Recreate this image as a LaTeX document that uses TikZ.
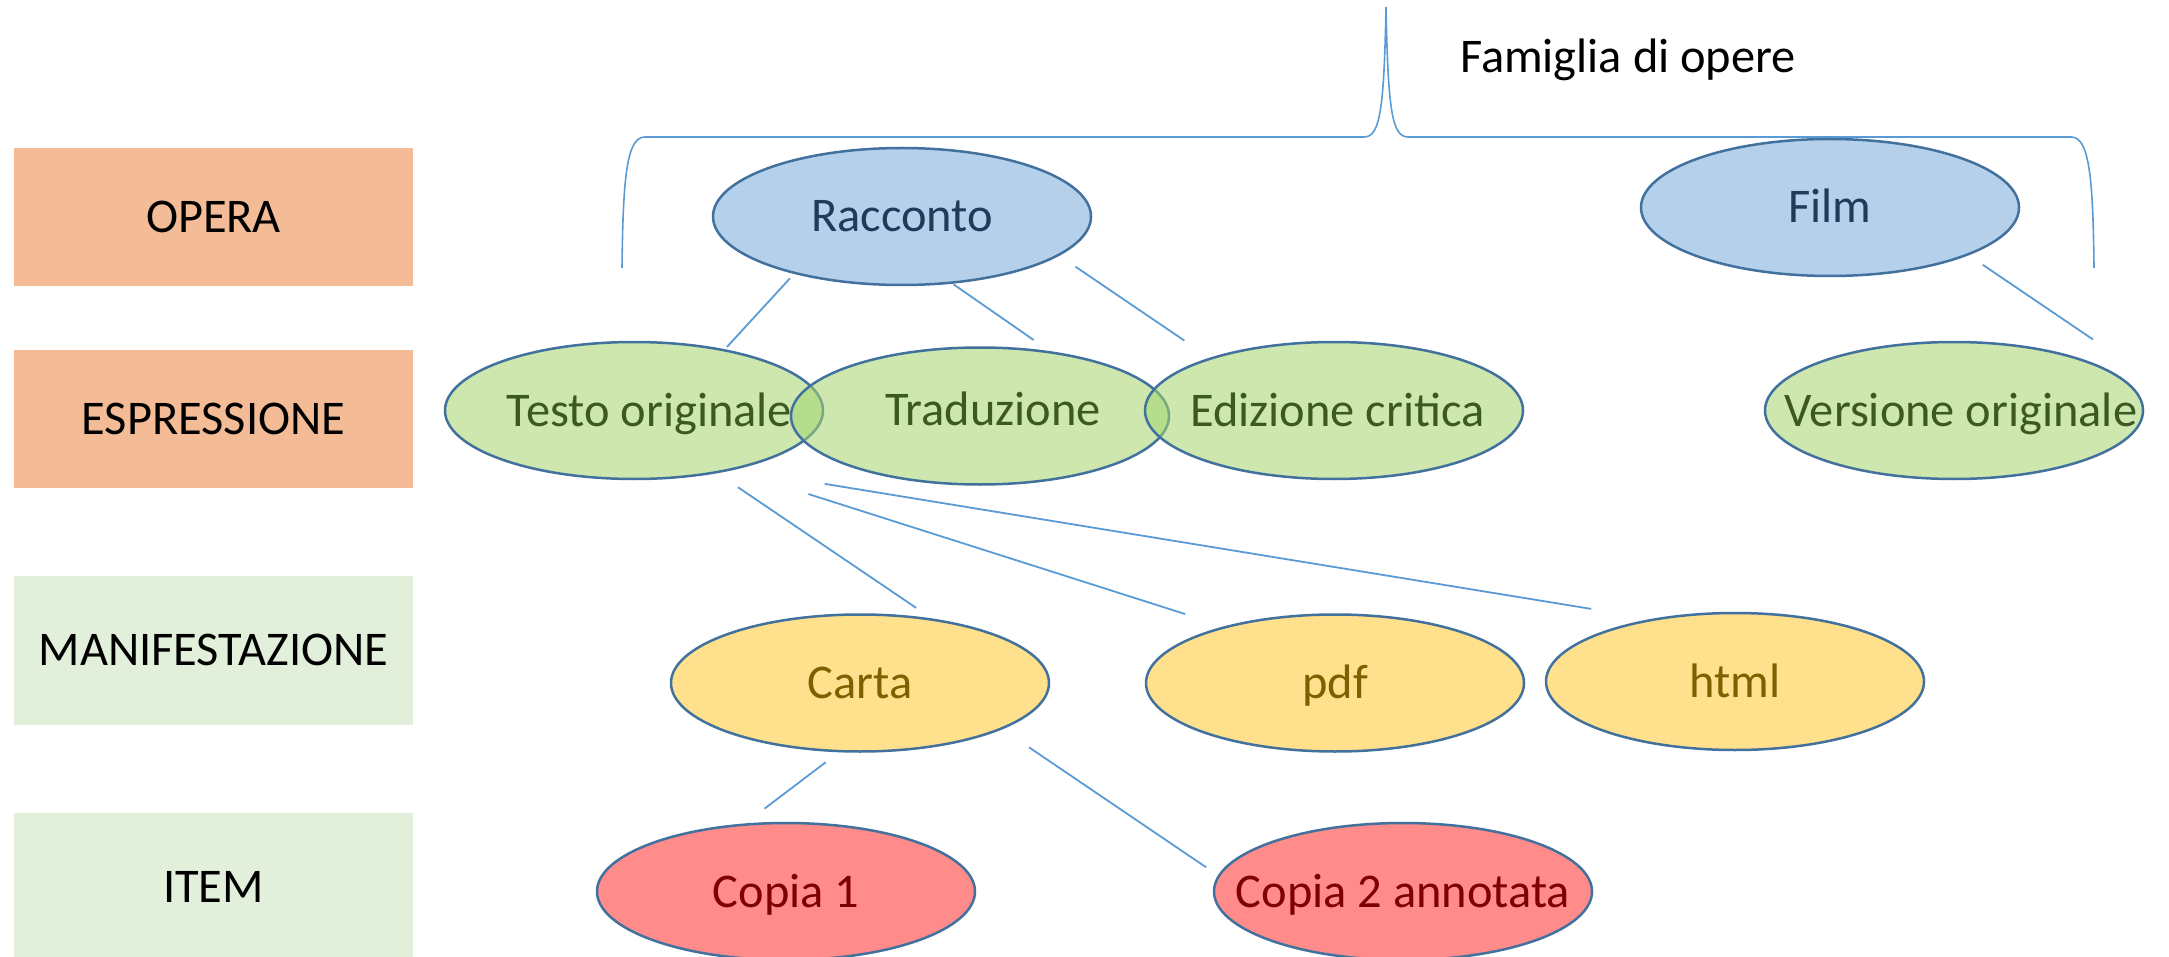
\documentclass[tikz,border=0pt]{standalone}
\usepackage{fontspec}
\setmainfont{Carlito}
\usepackage{tikz}
\usetikzlibrary{shapes}

\definecolor{peach}{HTML}{F4BC96}
\definecolor{mint}{HTML}{E2EFDA}
\definecolor{rim}{HTML}{41719C}
\definecolor{wire}{HTML}{5B9BD5}
\definecolor{operafill}{HTML}{B4D0EA}
\definecolor{operatext}{HTML}{203A5C}
\definecolor{esprfill}{HTML}{A4D56F}
\definecolor{esprtext}{HTML}{3B5A22}
\definecolor{maniffill}{HTML}{FFE08C}
\definecolor{maniftext}{HTML}{7F6000}
\definecolor{itemfill}{HTML}{FF8B8B}
\definecolor{itemtext}{HTML}{7F0000}

% text centred on the node, optional push to the right
\newcommand{\ctr}[2][0pt]{\makebox[0pt]{\hspace*{#1}#2}}

\begin{document}
\begin{tikzpicture}[x=0.5pt, y=-0.5pt, font=\fontsize{24.2}{28}\selectfont]

\tikzstyle{tierbox} = [rectangle, minimum width=199.5pt, inner sep=0pt, text height=15.5pt, text depth=0pt]
\tikzstyle{elli} = [draw=rim, line width=1.25pt, ellipse, minimum width=189pt, minimum height=68.5pt, inner sep=0pt, text height=15.5pt, text depth=0pt]
\tikzstyle{operaelli} = [elli, fill=operafill, text=operatext]
\tikzstyle{esprelli} = [elli, fill=esprfill, fill opacity=0.55, text opacity=1, text=esprtext]
\tikzstyle{manifelli} = [elli, fill=maniffill, text=maniftext]
\tikzstyle{itemelli} = [elli, fill=itemfill, text=itemtext]
\tikzstyle{link} = [draw=wire, line width=0.9pt]

\path [fill=white, use as bounding box] (0,0) rectangle (2169,957);

%levels
\node [tierbox, fill=peach, minimum height=69pt] (opera) at (213.5,217) {OPERA};
\node [tierbox, fill=peach, minimum height=69pt, below of=opera, node distance=101pt] (espressione) {ESPRESSIONE};
\node [tierbox, fill=mint, minimum height=74.5pt, below of=espressione, node distance=115.5pt] (manifestazione) {MANIFESTAZIONE};
\node [tierbox, fill=mint, minimum height=74.5pt, below of=manifestazione, node distance=118.5pt] (item) {ITEM};

%brace
\draw [wire, line width=0.8pt] (622,268) .. controls (623,175) and (627,137) .. (645,137) -- (1364,137)
  .. controls (1380,137) and (1384,110) .. (1386,7) .. controls (1388,110) and (1392,137) .. (1408,137)
  -- (2071,137) .. controls (2089,137) and (2093,175) .. (2094,268);
\node [inner sep=0pt, text height=15.5pt, text depth=0pt] (famiglia) at (1628,57) {Famiglia di opere};

%works
\node [operaelli] (racconto) at (902,216.5) {\ctr{Racconto}};
\node [operaelli, right of=racconto, node distance=464pt, yshift=4.5pt] (film) {\ctr{Film}};

%expressions
\node [esprelli, below of=racconto, node distance=97pt, xshift=-134pt] (testo) {\ctr[15.5pt]{Testo originale}};
\node [esprelli, right of=testo, node distance=173pt, yshift=-2.75pt] (traduzione) {\ctr[13pt]{\raisebox{3pt}{Traduzione}}};
\node [esprelli, right of=testo, node distance=350pt] (edizione) {\ctr[3.5pt]{Edizione critica}};
\node [esprelli, right of=edizione, node distance=310pt] (versione) {\ctr[7pt]{Versione originale}};

%manifestations
\node [manifelli, below of=testo, node distance=136.25pt, xshift=113pt] (carta) {\ctr{Carta}};
\node [manifelli, right of=carta, node distance=237.5pt] (pdf) {\ctr{pdf}};
\node [manifelli, right of=pdf, node distance=200pt, yshift=0.75pt] (html) {\ctr{html}};

%items
\node [itemelli, below of=carta, node distance=104.25pt, xshift=-37pt] (copia1) {\ctr{Copia 1}};
\node [itemelli, right of=copia1, node distance=308.5pt] (copia2) {\ctr{Copia 2 annotata}};

%connectors
\coordinate (vtip) at ([xshift=69.5pt, yshift=35.5pt]versione.center);
\path [link, shorten <=3pt, shorten >=1.5pt] (racconto.208) -- (testo.34);
\path [link, shorten <=0.5pt, shorten >=9.7pt] (racconto.307) -- (traduzione.43);
\path [link, shorten <=9.8pt, shorten >=15.3pt] (racconto.346) -- (edizione.157);
\path [link, shorten <=8.5pt] (film.341) -- (vtip);
\path [link, shorten <=12.5pt, shorten >=9.4pt] (testo.323) -- (carta.42);
\path [link, shorten <=39.5pt, shorten >=20.4pt] (testo.329) -- (pdf.153);
\path [link, shorten <=45pt, shorten >=30.7pt] (testo.330) -- (html.143);
\path [link, shorten <=8.2pt, shorten >=12.2pt] (carta.253) -- (copia1.121);
\path [link, shorten <=16.1pt, shorten >=7.1pt] (carta.342) -- (copia2.175);
\end{tikzpicture}
\end{document}
